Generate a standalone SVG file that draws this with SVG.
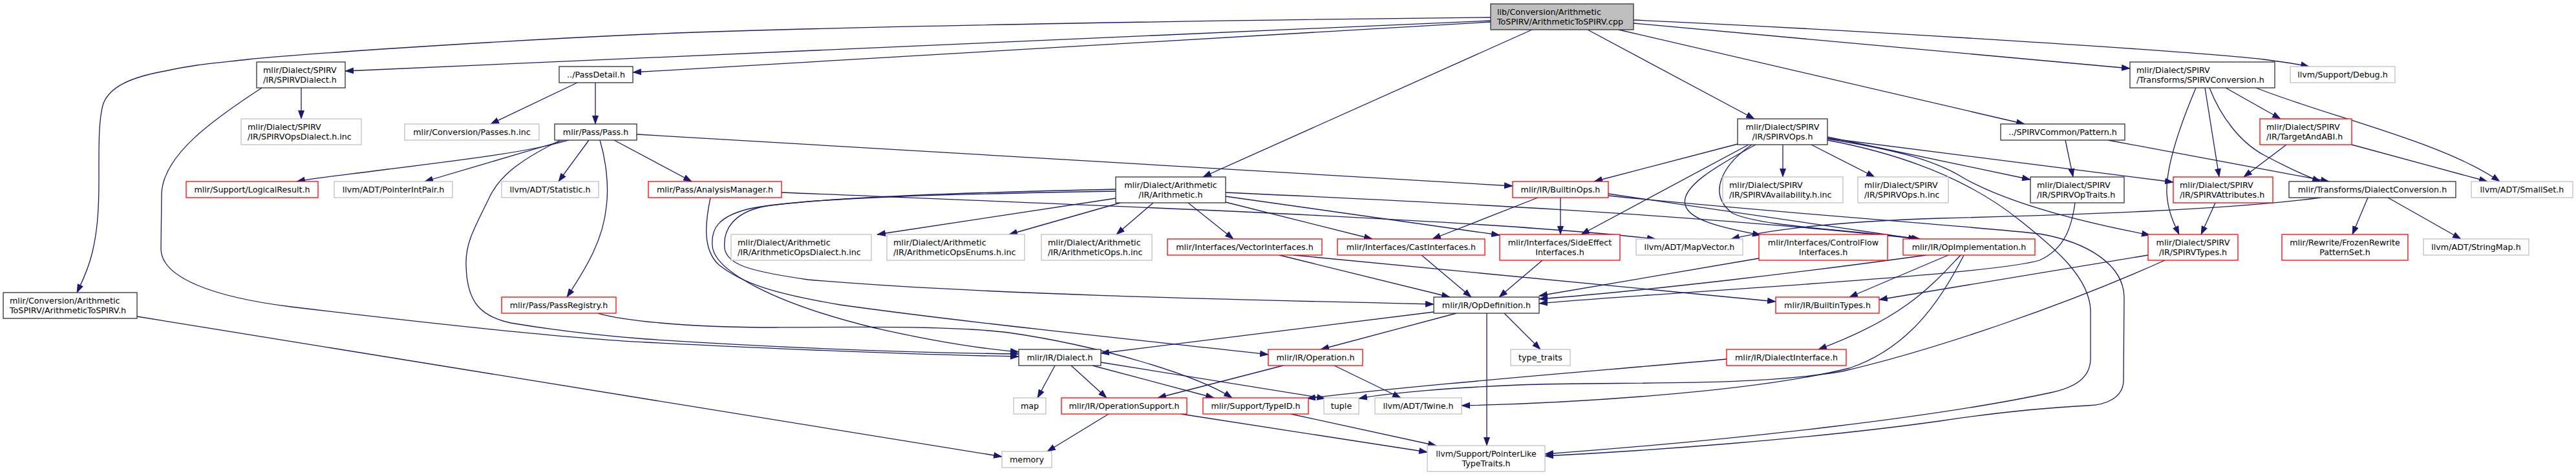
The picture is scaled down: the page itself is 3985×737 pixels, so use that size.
<svg xmlns="http://www.w3.org/2000/svg" width="3985" height="737" viewBox="0 0 3985 737">
<style>
.node rect{fill:#fff;stroke-width:1.3}
.k rect{stroke:#303030}
.r rect{stroke:#ff0000}
.g rect{stroke:#bfbfbf}
.m rect{fill:#bfbfbf;stroke:#303030}
.node text{font-family:"DejaVu Sans","Liberation Sans",sans-serif;font-size:12.7px;fill:#000}
.c{text-anchor:middle}
#edges path{fill:none;stroke:#191970;stroke-width:1.3;marker-end:url(#a)}
</style>
<defs>
<marker id="a" markerUnits="userSpaceOnUse" markerWidth="14" markerHeight="10" refX="13" refY="5" orient="auto"><path d="M0,0 L14,5 L0,10 z" fill="#191970"/></marker>
</defs>
<rect width="3985" height="737" fill="#fff"/>
<g id="edges">
<path d="M2306,27 C2000,30 1300,40 1000,53 C750,64 450,85 383,92 C330,98 300,100 255,110 C200,120 170,135 160,160 C152,185 153,230 153,280 C153,330 150,360 143,390 C136,420 125,440 119,453"/>
<path d="M2306,32 L534,110"/>
<path d="M2306,34 L979,112"/>
<path d="M2370,46 L1861,274"/>
<path d="M2456,46 L2714,184"/>
<path d="M2527,36 L3295,106"/>
<path d="M2527,31 C2900,48 3400,80 3502,92 C3530,96 3555,99 3572,103"/>
<path d="M2504,46 L3132,192"/>
<path d="M466,136 L466,184"/>
<path d="M405,136 C330,185 252,240 250,300 L249,385 C249,430 330,460 450,475 C700,505 900,525 1000,530 C1200,540 1400,549 1576,552"/>
<path d="M893,128 L759,192"/>
<path d="M921,128 L921,192"/>
<path d="M880,217 C820,235 720,247 600,262 C540,270 490,275 459,281"/>
<path d="M874,217 L657,281"/>
<path d="M911,217 L864,281"/>
<path d="M950,217 L1070,281"/>
<path d="M928,217 C938,250 942,290 938,320 C933,370 910,410 877,460"/>
<path d="M867,217 C800,250 770,275 755,310 C730,360 720,380 721,410 C722,470 745,490 790,500 C880,515 960,522 1000,525 C1200,538 1400,546 1576,548"/>
<path d="M985,208 L2340,288"/>
<path d="M1209,298 C1700,318 2300,340 2561,370"/>
<path d="M1099,306 C1092,340 1085,385 1112,410 C1150,440 1200,455 1300,472 C1500,500 1750,525 1962,549"/>
<path d="M925,485 C960,495 1050,507 1200,507 C1350,506 1480,505 1560,515 C1700,535 1850,580 1906,616"/>
<path d="M212,490 L1550,707"/>
<path d="M1726,307 L1357,363"/>
<path d="M1733,314 L1561,363"/>
<path d="M1784,314 L1727,363"/>
<path d="M1838,314 L1908,370"/>
<path d="M1896,313 L2123,370"/>
<path d="M1896,304 L2320,364"/>
<path d="M1896,298 C2200,312 2600,330 2970,370"/>
<path d="M1726,296 C1500,300 1250,305 1160,323 C1110,335 1100,355 1102,380 C1104,420 1200,470 1350,507 C1450,530 1520,540 1576,545"/>
<path d="M1726,293 C1500,298 1280,305 1180,320 C1135,330 1118,355 1121,385 C1125,410 1160,420 1250,433 C1500,455 1900,464 2218,471"/>
<path d="M2379,306 L2216,370"/>
<path d="M2414,306 L2414,363"/>
<path d="M2488,300 L2965,370"/>
<path d="M2488,303 C2750,330 3050,350 3155,362 C3230,375 3285,410 3286,460 L3285,590 C3284,615 3260,627 3229,628 C3150,632 3080,640 3000,652 C2800,680 2550,698 2390,706"/>
<path d="M2827,217 C2950,240 3050,280 3127,343 C3180,385 3232,430 3234,480 L3234,555 C3234,585 3210,600 3172,608 C3000,645 2700,680 2390,703"/>
<path d="M2688,223 L2466,281"/>
<path d="M2705,224 L2446,363"/>
<path d="M2716,224 C2650,260 2600,290 2607,317 C2612,340 2660,352 2724,364"/>
<path d="M2710,224 C2665,255 2640,300 2680,330 C2720,350 2850,355 2970,370"/>
<path d="M2758,224 L2758,274"/>
<path d="M2802,224 L2900,274"/>
<path d="M2827,212 L3141,278"/>
<path d="M2827,214 L3362,282"/>
<path d="M2827,215 C2920,230 2990,245 3040,277 C3100,310 3200,340 3326,364"/>
<path d="M3397,136 C3370,200 3350,260 3352,300 C3354,330 3365,350 3371,363"/>
<path d="M3411,136 L3433,274"/>
<path d="M3418,136 C3435,180 3465,220 3502,240 C3540,260 3565,272 3590,281"/>
<path d="M3443,136 L3528,184"/>
<path d="M3490,136 C3600,180 3780,220 3867,281"/>
<path d="M3195,217 L3207,274"/>
<path d="M3261,217 L3603,281"/>
<path d="M3537,224 L3471,274"/>
<path d="M3638,224 L3848,281"/>
<path d="M3210,314 C3205,350 3195,385 3155,403 C3100,420 2800,440 2550,457 C2480,462 2420,466 2381,470"/>
<path d="M3427,314 L3405,363"/>
<path d="M3590,306 C3450,325 3200,333 3000,338 C2850,343 2740,355 2678,370"/>
<path d="M3663,306 L3639,363"/>
<path d="M3694,306 L3807,370"/>
<path d="M3323,395 L2907,464"/>
<path d="M3349,403 C3200,470 3000,540 2850,575 C2700,600 2500,590 2350,596 C2250,600 2150,608 2102,617"/>
<path d="M2980,395 C2800,420 2550,450 2381,463"/>
<path d="M3014,395 L2861,460"/>
<path d="M3033,395 C2990,440 2950,490 2813,541"/>
<path d="M3038,395 C3000,470 2950,540 2861,570 C2700,610 2400,625 2261,628"/>
<path d="M2721,400 L2381,458"/>
<path d="M1979,395 L2243,460"/>
<path d="M2001,395 L2747,467"/>
<path d="M2199,395 L2276,460"/>
<path d="M2386,403 L2319,460"/>
<path d="M2218,483 L1703,547"/>
<path d="M2253,485 L2043,541"/>
<path d="M2327,485 L2383,541"/>
<path d="M2300,485 L2300,690"/>
<path d="M1632,566 L1605,616"/>
<path d="M1657,566 L1712,616"/>
<path d="M1690,566 L1878,616"/>
<path d="M1703,561 L2050,617"/>
<path d="M1985,566 L1791,616"/>
<path d="M2064,566 L2167,616"/>
<path d="M1715,641 L1620,699"/>
<path d="M1827,641 L2208,700"/>
<path d="M1997,641 L2222,690"/>
<path d="M2671,556 C2500,572 2200,595 2022,617"/>
</g>
<g id="n-main" class="node m"><rect x="2306" y="6" width="221" height="40"/><text x="2316" y="22.5">lib/Conversion/Arithmetic</text><text x="2316" y="37.5">ToSPIRV/ArithmeticToSPIRV.cpp</text></g>
<g id="n-spirvdialect" class="node k"><rect x="397" y="96" width="137" height="40"/><text x="407" y="112.5">mlir/Dialect/SPIRV</text><text x="407" y="127.5">/IR/SPIRVDialect.h</text></g>
<g id="n-passdetail" class="node k"><rect x="865" y="103" width="114" height="25"/><text class="c" x="922" y="120">../PassDetail.h</text></g>
<g id="n-spirvconversion" class="node k"><rect x="3295" y="96" width="224" height="40"/><text x="3305" y="112.5">mlir/Dialect/SPIRV</text><text x="3305" y="127.5">/Transforms/SPIRVConversion.h</text></g>
<g id="n-debug" class="node g"><rect x="3543" y="103" width="162" height="25"/><text class="c" x="3624" y="120">llvm/Support/Debug.h</text></g>
<g id="n-spirvopsdialect" class="node g"><rect x="373" y="184" width="186" height="40"/><text x="383" y="201">mlir/Dialect/SPIRV</text><text x="383" y="216">/IR/SPIRVOpsDialect.h.inc</text></g>
<g id="n-passesinc" class="node g"><rect x="626" y="192" width="208" height="25"/><text class="c" x="730" y="208.5">mlir/Conversion/Passes.h.inc</text></g>
<g id="n-pass" class="node k"><rect x="858" y="192" width="127" height="25"/><text class="c" x="921.5" y="208.5">mlir/Pass/Pass.h</text></g>
<g id="n-spirvops" class="node k"><rect x="2688" y="184" width="139" height="40"/><text class="c" x="2757.5" y="201">mlir/Dialect/SPIRV</text><text class="c" x="2757.5" y="216">/IR/SPIRVOps.h</text></g>
<g id="n-pattern" class="node k"><rect x="3095" y="192" width="192" height="25"/><text class="c" x="3191" y="208.5">../SPIRVCommon/Pattern.h</text></g>
<g id="n-targetandabi" class="node r"><rect x="3496" y="184" width="142" height="40"/><text x="3506" y="201">mlir/Dialect/SPIRV</text><text x="3506" y="216">/IR/TargetAndABI.h</text></g>
<g id="n-logicalresult" class="node r"><rect x="288" y="281" width="204" height="25"/><text class="c" x="390" y="298">mlir/Support/LogicalResult.h</text></g>
<g id="n-pointerintpair" class="node g"><rect x="517" y="281" width="183" height="25"/><text class="c" x="608.5" y="298">llvm/ADT/PointerIntPair.h</text></g>
<g id="n-statistic" class="node g"><rect x="776" y="281" width="150" height="25"/><text class="c" x="851" y="298">llvm/ADT/Statistic.h</text></g>
<g id="n-analysismanager" class="node r"><rect x="1003" y="281" width="206" height="25"/><text class="c" x="1106" y="298">mlir/Pass/AnalysisManager.h</text></g>
<g id="n-arithmetic" class="node k"><rect x="1726" y="274" width="170" height="40"/><text class="c" x="1811" y="291">mlir/Dialect/Arithmetic</text><text class="c" x="1811" y="306">/IR/Arithmetic.h</text></g>
<g id="n-builtinops" class="node r"><rect x="2340" y="281" width="148" height="25"/><text class="c" x="2414" y="298">mlir/IR/BuiltinOps.h</text></g>
<g id="n-spirvavailability" class="node g"><rect x="2665" y="274" width="186" height="40"/><text x="2675" y="291">mlir/Dialect/SPIRV</text><text x="2675" y="306">/IR/SPIRVAvailability.h.inc</text></g>
<g id="n-spirvopsinc" class="node g"><rect x="2874" y="274" width="140" height="40"/><text x="2884" y="291">mlir/Dialect/SPIRV</text><text x="2884" y="306">/IR/SPIRVOps.h.inc</text></g>
<g id="n-spirvoptraits" class="node k"><rect x="3141" y="274" width="145" height="40"/><text x="3151" y="291">mlir/Dialect/SPIRV</text><text x="3151" y="306">/IR/SPIRVOpTraits.h</text></g>
<g id="n-spirvattributes" class="node r"><rect x="3362" y="274" width="154" height="40"/><text x="3372" y="291">mlir/Dialect/SPIRV</text><text x="3372" y="306">/IR/SPIRVAttributes.h</text></g>
<g id="n-dialectconversion" class="node k"><rect x="3541" y="281" width="258" height="25"/><text class="c" x="3670" y="298">mlir/Transforms/DialectConversion.h</text></g>
<g id="n-smallset" class="node g"><rect x="3823" y="281" width="157" height="25"/><text class="c" x="3901.5" y="298">llvm/ADT/SmallSet.h</text></g>
<g id="n-arithopsdialect" class="node g"><rect x="1131" y="363" width="217" height="40"/><text x="1141" y="380">mlir/Dialect/Arithmetic</text><text x="1141" y="395">/IR/ArithmeticOpsDialect.h.inc</text></g>
<g id="n-arithopsenums" class="node g"><rect x="1372" y="363" width="213" height="40"/><text x="1382" y="380">mlir/Dialect/Arithmetic</text><text x="1382" y="395">/IR/ArithmeticOpsEnums.h.inc</text></g>
<g id="n-arithopsinc" class="node g"><rect x="1611" y="363" width="171" height="40"/><text x="1621" y="380">mlir/Dialect/Arithmetic</text><text x="1621" y="395">/IR/ArithmeticOps.h.inc</text></g>
<g id="n-vectorinterfaces" class="node r"><rect x="1806" y="370" width="239" height="25"/><text class="c" x="1925.5" y="387">mlir/Interfaces/VectorInterfaces.h</text></g>
<g id="n-castinterfaces" class="node r"><rect x="2069" y="370" width="228" height="25"/><text class="c" x="2183" y="387">mlir/Interfaces/CastInterfaces.h</text></g>
<g id="n-sideeffect" class="node r"><rect x="2320" y="363" width="186" height="40"/><text class="c" x="2413" y="380">mlir/Interfaces/SideEffect</text><text class="c" x="2413" y="395">Interfaces.h</text></g>
<g id="n-mapvector" class="node g"><rect x="2531" y="370" width="165" height="25"/><text class="c" x="2613.5" y="387">llvm/ADT/MapVector.h</text></g>
<g id="n-controlflow" class="node r"><rect x="2721" y="363" width="199" height="40"/><text class="c" x="2820.5" y="380">mlir/Interfaces/ControlFlow</text><text class="c" x="2820.5" y="395">Interfaces.h</text></g>
<g id="n-opimplementation" class="node r"><rect x="2944" y="370" width="204" height="25"/><text class="c" x="3046" y="387">mlir/IR/OpImplementation.h</text></g>
<g id="n-spirvtypes" class="node r"><rect x="3323" y="363" width="139" height="40"/><text class="c" x="3392.5" y="380">mlir/Dialect/SPIRV</text><text class="c" x="3392.5" y="395">/IR/SPIRVTypes.h</text></g>
<g id="n-frozenrewrite" class="node r"><rect x="3530" y="363" width="195" height="40"/><text class="c" x="3627.5" y="380">mlir/Rewrite/FrozenRewrite</text><text class="c" x="3627.5" y="395">PatternSet.h</text></g>
<g id="n-stringmap" class="node g"><rect x="3749" y="370" width="163" height="25"/><text class="c" x="3830.5" y="387">llvm/ADT/StringMap.h</text></g>
<g id="n-arithtospirvh" class="node k"><rect x="5" y="453" width="207" height="40"/><text x="15" y="470">mlir/Conversion/Arithmetic</text><text x="15" y="485">ToSPIRV/ArithmeticToSPIRV.h</text></g>
<g id="n-passregistry" class="node r"><rect x="776" y="460" width="177" height="25"/><text class="c" x="864.5" y="477">mlir/Pass/PassRegistry.h</text></g>
<g id="n-opdefinition" class="node k"><rect x="2218" y="460" width="163" height="25"/><text class="c" x="2299.5" y="477">mlir/IR/OpDefinition.h</text></g>
<g id="n-builtintypes" class="node r"><rect x="2747" y="460" width="160" height="25"/><text class="c" x="2827" y="477">mlir/IR/BuiltinTypes.h</text></g>
<g id="n-dialect" class="node k"><rect x="1576" y="541" width="127" height="25"/><text class="c" x="1639.5" y="558">mlir/IR/Dialect.h</text></g>
<g id="n-operation" class="node r"><rect x="1962" y="541" width="146" height="25"/><text class="c" x="2035" y="558">mlir/IR/Operation.h</text></g>
<g id="n-typetraits" class="node g"><rect x="2337" y="541" width="92" height="25"/><text class="c" x="2383" y="558">type_traits</text></g>
<g id="n-dialectinterface" class="node r"><rect x="2671" y="541" width="185" height="25"/><text class="c" x="2763.5" y="558">mlir/IR/DialectInterface.h</text></g>
<g id="n-map" class="node g"><rect x="1568" y="616" width="50" height="25"/><text class="c" x="1593" y="633">map</text></g>
<g id="n-operationsupport" class="node r"><rect x="1642" y="616" width="194" height="25"/><text class="c" x="1739" y="633">mlir/IR/OperationSupport.h</text></g>
<g id="n-typeid" class="node r"><rect x="1861" y="616" width="163" height="25"/><text class="c" x="1942.5" y="633">mlir/Support/TypeID.h</text></g>
<g id="n-tuple" class="node g"><rect x="2048" y="616" width="54" height="25"/><text class="c" x="2075" y="633">tuple</text></g>
<g id="n-twine" class="node g"><rect x="2127" y="616" width="134" height="25"/><text class="c" x="2194" y="633">llvm/ADT/Twine.h</text></g>
<g id="n-memory" class="node g"><rect x="1550" y="699" width="77" height="25"/><text class="c" x="1588.5" y="716">memory</text></g>
<g id="n-pointerlike" class="node g"><rect x="2208" y="690" width="182" height="40"/><text class="c" x="2299" y="707">llvm/Support/PointerLike</text><text class="c" x="2299" y="722">TypeTraits.h</text></g>
</svg>
